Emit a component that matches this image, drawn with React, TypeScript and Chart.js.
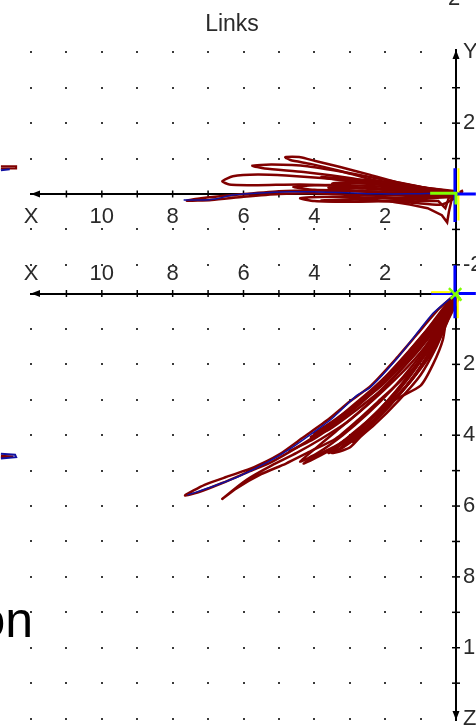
import React, { useEffect, useRef } from 'react';
import { Chart, registerables } from 'chart.js';

Chart.register(...registerables);

// ---- scale ranges (world units) ----
const X_MIN = 0;
const X_MAX = 12;
const Y_TOP = 4.065;
const Y_BOTTOM = -14.85;
const LOWER_OFFSET = 2.81; // the lower (X-Z) panel's origin, in the shared vertical units

// ---- tick labels ----
const X_TICK_LABELS = ['', '', '2', '', '4', '', '6', '', '8', '', '10', '', 'X'];
const Y_TICK_VALUES = [4, 3, 2, 1, -1, -2];
const Y_TICK_LABELS = ['Y', '', '2', '', '', '-2'];
const Z_TICK_VALUES = [1, 2, 3, 4, 5, 6, 7, 8, 9, 10, 11, 12];
const Z_TICK_LABELS = ['', '2', '', '4', '', '6', '', '8', '', '10', '', 'Z'];

// ---- dotted grid ----
const GRID_X = [1, 2, 3, 4, 5, 6, 7, 8, 9, 10, 11, 12];
const GRID_Y = [4, 3, 2, 1, -1, -2];
const GRID_Z = [1, 2, 3, 4, 5, 6, 7, 8, 9, 10, 11, 12];

// ---- upper panel (X, Y) ----
const UP_RED_1: number[][] = [[0, 0], [0.73, 0.14], [1.58, 0.31], [2.42, 0.54], [3.27, 0.76], [3.97, 0.93], [4.39, 1.04], [4.82, 1.04], [4.68, 0.96], [4.11, 0.85], [3.27, 0.65], [2.42, 0.42], [1.58, 0.25], [0.73, 0.11], [0, 0]];
const UP_RED_2: number[][] = [[0, 0], [1.4, 0.28], [2.8, 0.55], [4.2, 0.78], [5.2, 0.83], [5.75, 0.8], [5.4, 0.72], [4.3, 0.62], [3, 0.45], [1.6, 0.22], [0, 0]];
const UP_RED_3: number[][] = [[0, 0], [1.2, 0.15], [2.5, 0.33], [3.8, 0.45], [4.8, 0.52], [5.6, 0.55], [6.3, 0.5], [6.6, 0.36], [6.4, 0.27], [5.6, 0.25], [4.4, 0.27], [3.2, 0.22], [2, 0.12], [0.8, 0.03], [0, 0]];
const UP_RED_4: number[][] = [[0, 0], [1, -0.02], [2, -0.05], [3, -0.03], [4, 0.02], [5, 0], [6, -0.08], [6.9, -0.17], [7.6, -0.19], [7.2, -0.12], [6.2, -0.02], [5, 0.08], [4, 0.1], [3, 0.08], [2, 0.05], [1, 0.02], [0, 0]];
const UP_RED_5: number[][] = [[0, 0], [1, 0.12], [2, 0.2], [3, 0.25], [4, 0.25], [4.6, 0.2], [4, 0.12], [3, 0.1], [2, 0.05], [1, 0], [0, 0]];
const UP_RED_6: number[][] = [[0, -0.05], [1, -0.15], [2, -0.2], [3, -0.22], [4, -0.2], [4.4, -0.12], [3.5, -0.08], [2.5, -0.1], [1.5, -0.12], [0.5, -0.1], [0, -0.05]];
const UP_RED_7: number[][] = [[0, 0], [0.8, 0.05], [1.8, 0.1], [2.8, 0.17], [3.6, 0.18], [3.2, 0.12], [2.2, 0.05], [1.2, -0.05], [0.5, -0.05], [0, 0]];
const UP_RED_8: number[][] = [[-0.2, 0.1], [0.1, -0.05], [0.2, -0.5], [0.25, -0.8], [0.4, -0.6], [0.8, -0.4], [1.3, -0.3], [1.6, -0.25], [1.0, -0.2], [0.5, -0.2], [0.3, -0.4], [0.2, -0.1], [-0.2, 0.05]];
const UP_RED_9: number[][] = [[0, 0.05], [1, 0.2], [2, 0.35], [3, 0.42], [3.8, 0.48], [3.2, 0.38], [2.2, 0.28], [1.2, 0.16], [0, 0.05]];
const UP_RED_10: number[][] = [[0, -0.1], [1, -0.08], [2, -0.12], [3, -0.15], [3.8, -0.18], [3.2, -0.22], [2.2, -0.2], [1.2, -0.25], [0.4, -0.3], [0, -0.1]];
const UP_RED_11: number[][] = [[0, 0.08], [1, 0.1], [2, 0.15], [3, 0.2], [3.5, 0.3], [3, 0.32], [2, 0.25], [1, 0.18], [0, 0.08]];
const UP_BLUE: number[][] = [[7.69, -0.17], [7.2, -0.17], [6.79, -0.14], [6.31, -0.03], [5.52, 0.03], [4.68, 0.06], [4.03, 0.06], [3.3, 0.04], [2.5, 0.01], [1.77, 0], [1, 0.01], [0.4, 0.02], [0, 0]];

// ---- lower panel (X, Z), Z grows downward ----
const LO_RED_1: number[][] = [[0, 0], [0.5, 0.45], [1.1, 1.15], [1.7, 1.85], [2.4, 2.6], [3.0, 3.05], [3.6, 3.55], [4.3, 4.05], [5.0, 4.55], [5.7, 4.9], [6.4, 5.15], [7.1, 5.4], [7.65, 5.7], [7.3, 5.62], [6.6, 5.35], [5.9, 5.05], [5.2, 4.75], [4.5, 4.35], [3.8, 3.9], [3.2, 3.4], [2.6, 2.9], [2.0, 2.35], [1.4, 1.7], [0.8, 1.0], [0.3, 0.4], [0, 0]];
const LO_RED_2: number[][] = [[0.1, 0.1], [0.4, 0.7], [0.8, 1.4], [1.3, 2.0], [1.9, 2.6], [2.5, 3.15], [3.1, 3.65], [3.8, 4.1], [4.5, 4.5], [5.2, 4.85], [5.9, 5.25], [6.6, 5.8], [6.2, 5.5], [5.5, 5.1], [4.8, 4.8], [4.1, 4.45], [3.4, 4.1], [2.8, 3.6], [2.2, 3.05], [1.6, 2.5], [1.0, 1.9], [0.5, 1.2], [0.15, 0.5], [0, 0]];
const LO_RED_3: number[][] = [[0, 0], [0.3, 0.6], [0.7, 1.3], [1.2, 2.0], [1.8, 2.7], [2.5, 3.4], [3.2, 4.0], [3.9, 4.5], [4.4, 4.75], [4.0, 4.4], [3.4, 3.9], [2.8, 3.4], [2.2, 2.85], [1.6, 2.2], [1.0, 1.5], [0.5, 0.8], [0.1, 0.2]];
const LO_RED_4: number[][] = [[0, 0], [0.2, 0.5], [0.5, 1.2], [0.9, 1.9], [1.4, 2.6], [2.0, 3.3], [2.6, 3.9], [3.2, 4.35], [3.6, 4.5], [3.1, 4.1], [2.5, 3.6], [1.9, 3.0], [1.3, 2.3], [0.8, 1.6], [0.4, 0.9], [0.05, 0.3]];
const LO_RED_5: number[][] = [[-0.1, 0.1], [0.2, 0.7], [0.55, 1.5], [1.0, 2.3], [1.6, 3.0], [2.3, 3.7], [2.9, 4.2], [2.5, 3.8], [1.9, 3.2], [1.3, 2.5], [0.8, 1.8], [0.35, 1.0], [0, 0.3]];
const LO_RED_6: number[][] = [[0, 0], [0.35, 0.4], [0.8, 1.0], [1.3, 1.6], [1.9, 2.3], [2.6, 3.0], [3.3, 3.6], [4.0, 4.1], [4.7, 4.45], [4.2, 4.2], [3.5, 3.75], [2.8, 3.2], [2.1, 2.55], [1.5, 1.9], [0.9, 1.2], [0.4, 0.6], [0, 0]];
const LO_RED_7: number[][] = [[0.1, 0.1], [0.25, 0.55], [0.37, 1.3], [0.65, 2.0], [1.0, 2.6], [1.8, 3.05], [2.4, 3.7], [3.0, 4.35], [3.5, 4.5], [2.8, 3.9], [2.0, 3.2], [1.3, 2.5], [0.7, 1.7], [0.3, 0.9], [0, 0.2]];
const LO_RED_8: number[][] = [[0, 0.1], [0.3, 0.8], [0.7, 1.6], [1.15, 2.3], [1.7, 2.95], [2.3, 3.55], [3.0, 4.1], [3.6, 4.45], [4.3, 4.8], [4.0, 4.6], [3.3, 4.25], [2.6, 3.7], [2.0, 3.1], [1.45, 2.45], [0.95, 1.75], [0.5, 1.0], [0.15, 0.3]];
const LO_RED_9: number[][] = [[0.05, 0.05], [0.45, 0.6], [0.95, 1.3], [1.5, 1.95], [2.1, 2.55], [2.8, 3.15], [3.5, 3.7], [4.1, 4.05], [3.6, 3.85], [2.9, 3.35], [2.2, 2.8], [1.6, 2.2], [1.05, 1.6], [0.55, 0.95], [0.1, 0.25]];
const LO_RED_10: number[][] = [[0, 0.05], [0.25, 0.65], [0.6, 1.4], [1.05, 2.15], [1.55, 2.8], [2.15, 3.45], [2.75, 4.0], [3.3, 4.4], [2.9, 4.05], [2.3, 3.55], [1.75, 2.9], [1.2, 2.2], [0.7, 1.45], [0.3, 0.7], [0, 0.1]];
const LO_RED_11: number[][] = [[0, 0], [0.4, 0.55], [0.85, 1.2], [1.4, 1.85], [2.0, 2.45], [2.7, 3.05], [3.4, 3.55], [4.0, 3.95], [3.5, 3.65], [2.8, 3.15], [2.1, 2.6], [1.5, 2.0], [0.95, 1.4], [0.45, 0.75], [0, 0.05]];
const LO_BLUE: number[][] = [[0, 0], [0.65, 0.56], [1.66, 1.83], [2.42, 2.65], [2.79, 2.87], [3.49, 3.52], [3.75, 3.72], [4.62, 4.34], [5.32, 4.76], [6.17, 5.18], [6.85, 5.44], [7.58, 5.69]];

// ---- frame glyphs at the origins ----
const UP_FRAME_BLUE_H: number[][] = [[0.05, 0], [-0.56, 0]];
const UP_FRAME_BLUE_V: number[][] = [[0.03, 0.73], [0.03, -0.79]];
const UP_FRAME_YELLOW_V: number[][] = [[-0.07, 0.73], [-0.07, -0.75]];
const UP_FRAME_GREEN: number[][] = [[0.73, 0.02], [0, 0.02], [0, -0.3]];
const LO_FRAME_BLUE_H: number[][] = [[0.7, 0], [-0.56, 0]];
const LO_FRAME_YELLOW_H: number[][] = [[0.7, -0.04], [0.15, -0.04]];
const LO_FRAME_BLUE_V: number[][] = [[0.03, -0.8], [0.03, 0.7]];
const LO_FRAME_YELLOW_V: number[][] = [[-0.05, 0], [-0.05, 0.7]];
const LO_FRAME_GREEN: number[][] = [[0.2, -0.15], [-0.15, 0.2], [0, 0], [0.15, 0.15], [-0.15, -0.15]];

// ---- fragments of the neighbouring panel at the left edge ----
const EDGE_RED_UP: number[][] = [[12.85, 0.78], [12.42, 0.78], [12.42, 0.72], [12.85, 0.72]];
const EDGE_BLUE_UP: number[][] = [[12.85, 0.67], [12.6, 0.7]];
const EDGE_BLUE_LO: number[][] = [[12.85, 4.52], [12.45, 4.55], [12.42, 4.62], [12.85, 4.66]];
const EDGE_RED_LO: number[][] = [[12.85, 4.58], [12.5, 4.6], [12.85, 4.63]];

const upper = (pts: number[][]) => pts.map(([x, y]) => ({ x, y }));
const lower = (pts: number[][]) => pts.map(([x, z]) => ({ x, y: -LOWER_OFFSET - z }));

const RED = '#800000';
const BLUE = '#1010a0';
const FONT = 'Liberation Sans, Arial, sans-serif';

const Y_ALL_VALUES = [...Y_TICK_VALUES, ...Z_TICK_VALUES.map((z) => -LOWER_OFFSET - z)];
const Y_ALL_LABELS = [...Y_TICK_LABELS, ...Z_TICK_LABELS];

function line(data: { x: number; y: number }[], color: string, width: number, order: number, tension = 0.2) {
  return {
    data,
    showLine: true,
    borderColor: color,
    backgroundColor: color,
    borderWidth: width,
    pointRadius: 0,
    tension,
    clip: false as const,
    order,
  };
}

const decorPlugin = {
  id: 'decor',
  beforeDatasetsDraw(chart: any) {
    const { ctx } = chart;
    const xs = chart.scales.x;
    const ys = chart.scales.y;
    ctx.save();
    // dotted grid
    ctx.fillStyle = '#3a3a3a';
    const rows = [...GRID_Y, ...GRID_Z.map((z) => -LOWER_OFFSET - z)];
    for (const gx of GRID_X) {
      const px = xs.getPixelForValue(gx);
      for (const r of rows) {
        const py = ys.getPixelForValue(r);
        ctx.fillRect(Math.round(px) - 1, Math.round(py) - 1, 2, 2);
      }
    }
    // crossing tick marks on the horizontal axes
    ctx.strokeStyle = '#000';
    ctx.lineWidth = 1.5;
    const axisX = xs.getPixelForValue(0);
    for (const yv of [0, -LOWER_OFFSET]) {
      const py = ys.getPixelForValue(yv);
      for (let i = 1; i <= 11; i++) {
        const px = xs.getPixelForValue(i);
        ctx.beginPath();
        ctx.moveTo(px, py - 3.5);
        ctx.lineTo(px, py + 3.5);
        ctx.stroke();
      }
      const tip = xs.getPixelForValue(X_MAX);
      ctx.fillStyle = '#000';
      ctx.beginPath();
      ctx.moveTo(tip, py);
      ctx.lineTo(tip + 9, py - 3.5);
      ctx.lineTo(tip + 9, py + 3.5);
      ctx.closePath();
      ctx.fill();
    }
    // crossing tick marks on the vertical axis
    Y_ALL_VALUES.forEach((v, i) => {
      if (Y_ALL_LABELS[i] === 'Y' || Y_ALL_LABELS[i] === 'Z') return;
      const py = ys.getPixelForValue(v);
      ctx.beginPath();
      ctx.moveTo(axisX - 4, py);
      ctx.lineTo(axisX + 4, py);
      ctx.stroke();
    });
    // vertical arrow heads
    const top = ys.getPixelForValue(Y_TOP);
    const bot = ys.getPixelForValue(Y_BOTTOM);
    ctx.fillStyle = '#000';
    ctx.beginPath();
    ctx.moveTo(axisX, top);
    ctx.lineTo(axisX - 3.5, top + 9);
    ctx.lineTo(axisX + 3.5, top + 9);
    ctx.closePath();
    ctx.fill();
    ctx.beginPath();
    ctx.moveTo(axisX, bot);
    ctx.lineTo(axisX - 3.5, bot - 9);
    ctx.lineTo(axisX + 3.5, bot - 9);
    ctx.closePath();
    ctx.fill();
    ctx.restore();
  },
  afterDraw(chart: any) {
    const { ctx } = chart;
    ctx.save();
    ctx.fillStyle = '#2a2a2a';
    ctx.font = `23px ${FONT}`;
    ctx.textAlign = 'center';
    ctx.textBaseline = 'alphabetic';
    ctx.fillText('Links', 232, 31);
    ctx.font = `22px ${FONT}`;
    ctx.textAlign = 'left';
    ctx.fillText('2', 448, 5);
    ctx.fillStyle = '#000';
    ctx.font = `50px ${FONT}`;
    ctx.textAlign = 'right';
    ctx.fillText('on', 33, 637);
    ctx.restore();
  },
};

const zeroPad = (s: any) => {
  s.paddingTop = 0;
  s.paddingBottom = 0;
  s.paddingLeft = 0;
  s.paddingRight = 0;
};

export default function App() {
  const ref = useRef<HTMLCanvasElement | null>(null);

  useEffect(() => {
    if (!ref.current) return;
    const tickFont = { family: FONT, size: 22 };
    const xScale = (posY: number, padding: number) => ({
      type: 'linear' as const,
      axis: 'x' as const,
      position: { y: posY },
      min: X_MIN,
      max: X_MAX,
      reverse: true,
      grid: { display: true, drawOnChartArea: false, drawTicks: false },
      border: { display: true, color: '#000', width: 2 },
      ticks: {
        stepSize: 1,
        autoSkip: false,
        maxRotation: 0,
        padding,
        color: '#2a2a2a',
        font: tickFont,
        callback: (v: number) => X_TICK_LABELS[Math.round(v)] ?? '',
      },
      afterFit: (s: any) => {
        s.height = 0;
        zeroPad(s);
      },
    });

    const red = (pts: { x: number; y: number }[]) => line(pts, RED, 2.5, 2);

    const chart = new Chart(ref.current, {
      type: 'scatter',
      data: {
        datasets: [
          line(upper(UP_FRAME_GREEN), '#80ff00', 3, 0, 0),
          line(upper(UP_FRAME_BLUE_H), '#0000ff', 3, 0, 0),
          line(upper(UP_FRAME_YELLOW_V), '#ffff00', 2, 0, 0),
          line(upper(UP_FRAME_BLUE_V), '#0000ff', 3, 0, 0),
          line(lower(LO_FRAME_GREEN), '#80ff00', 2.5, 0, 0),
          line(lower(LO_FRAME_YELLOW_H), '#ffff00', 2, 0, 0),
          line(lower(LO_FRAME_YELLOW_V), '#ffff00', 2, 0, 0),
          line(lower(LO_FRAME_BLUE_H), '#0000ff', 3, 0, 0),
          line(lower(LO_FRAME_BLUE_V), '#0000ff', 3, 0, 0),
          line(upper(UP_BLUE), BLUE, 1.5, 1),
          line(lower(LO_BLUE), BLUE, 1.5, 1),
          line(upper(EDGE_BLUE_UP), BLUE, 2, 1, 0),
          line(lower(EDGE_BLUE_LO), BLUE, 2, 1, 0),
          line(upper(EDGE_RED_UP), RED, 2, 2, 0),
          line(lower(EDGE_RED_LO), RED, 2, 2, 0),
          red(upper(UP_RED_1)),
          red(upper(UP_RED_2)),
          red(upper(UP_RED_3)),
          red(upper(UP_RED_4)),
          red(upper(UP_RED_5)),
          red(upper(UP_RED_6)),
          red(upper(UP_RED_7)),
          line(upper(UP_RED_8), RED, 2.5, 2, 0),
          red(upper(UP_RED_9)),
          red(upper(UP_RED_10)),
          red(upper(UP_RED_11)),
          red(lower(LO_RED_1)),
          red(lower(LO_RED_2)),
          red(lower(LO_RED_3)),
          red(lower(LO_RED_4)),
          red(lower(LO_RED_5)),
          red(lower(LO_RED_6)),
          red(lower(LO_RED_7)),
          red(lower(LO_RED_8)),
          red(lower(LO_RED_9)),
          red(lower(LO_RED_10)),
          red(lower(LO_RED_11)),
        ] as any,
      },
      options: {
        responsive: false,
        animation: false,
        events: [],
        layout: { padding: { left: 31, right: 0, top: 50, bottom: 6 } },
        plugins: {
          legend: { display: false },
          tooltip: { enabled: false },
          title: { display: false },
        },
        scales: {
          x: xScale(0, 10) as any,
          x2: xScale(-LOWER_OFFSET, -32.5) as any,
          y: {
            type: 'linear',
            position: 'right',
            min: Y_BOTTOM,
            max: Y_TOP,
            grid: { display: true, drawOnChartArea: false, drawTicks: false },
            border: { display: true, color: '#000', width: 2 },
            ticks: {
              autoSkip: false,
              padding: 7,
              color: '#2a2a2a',
              font: tickFont,
              callback: (_v: any, i: number) => Y_ALL_LABELS[i] ?? '',
            },
            afterBuildTicks: (s: any) => {
              s.ticks = Y_ALL_VALUES.map((value) => ({ value }));
            },
            afterFit: (s: any) => {
              s.width = 20;
              zeroPad(s);
            },
          } as any,
        },
      },
      plugins: [decorPlugin],
    });
    return () => chart.destroy();
  }, []);

  return (
    <div style={{ position: 'absolute', left: 0, top: 0, width: 476, height: 726, background: '#fff' }}>
      <canvas ref={ref} width={476} height={726} style={{ display: 'block' }} />
    </div>
  );
}
